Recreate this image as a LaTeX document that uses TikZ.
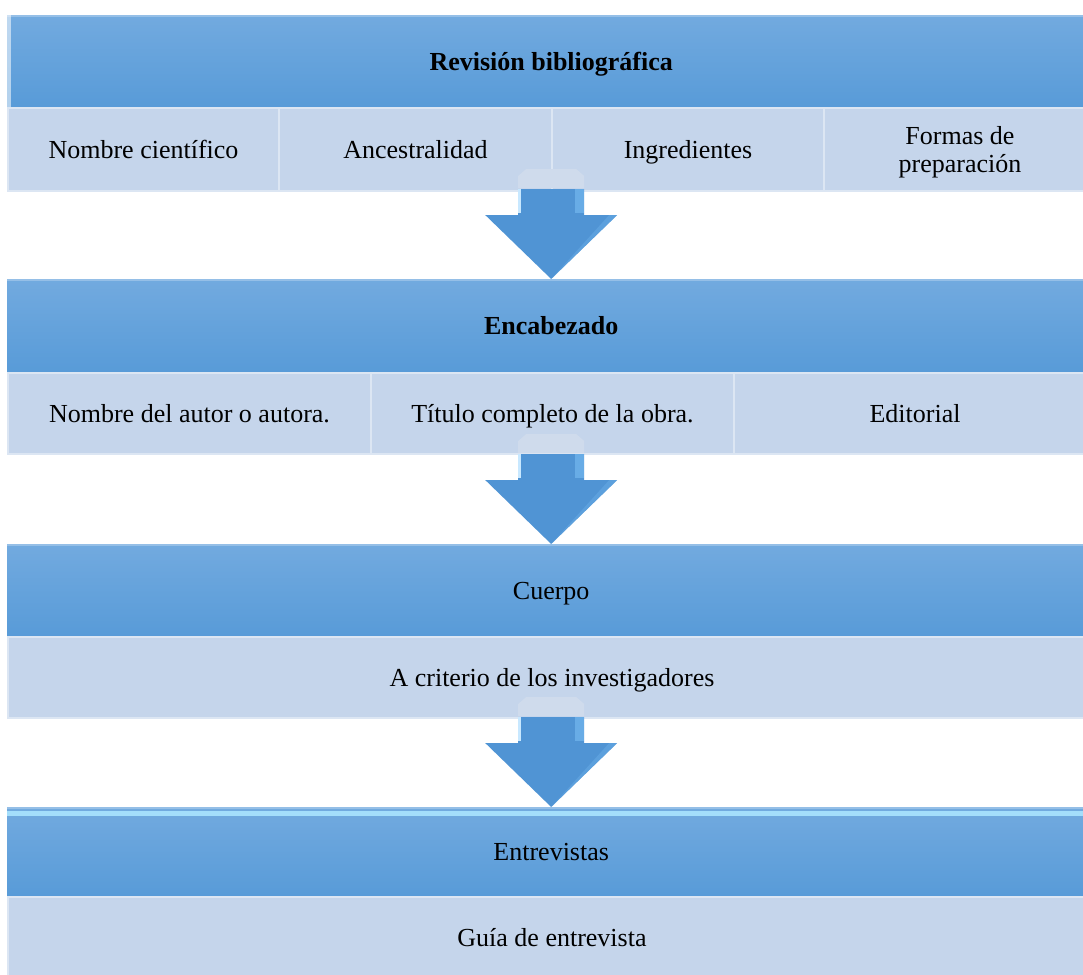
\documentclass[tikz,border=0pt]{standalone}
\usepackage{fontspec}
\setmainfont{Liberation Serif}
\usetikzlibrary{calc}
\definecolor{hdtop}{RGB}{114,170,223}
\definecolor{hdbot}{RGB}{88,155,216}
\definecolor{subc}{RGB}{197,213,235}
\definecolor{subedge}{RGB}{220,230,243}
\definecolor{arrc}{RGB}{80,148,212}
\definecolor{arrlight}{RGB}{200,232,255}
\definecolor{arrside}{RGB}{104,172,230}
\definecolor{ghost}{RGB}{207,219,236}
\definecolor{glow}{RGB}{170,228,255}
\tikzset{
  txt/.style={font=\fontsize{26}{28}\selectfont, text=black, align=center},
  hdr/.style={rectangle, inner sep=0pt, top color=hdtop, bottom color=hdbot, draw=none, anchor=north west, txt, text height=21pt, text depth=3pt},
  subbox/.style={rectangle, inner sep=0pt, fill=subc, draw=subedge, line width=2pt, anchor=north west, txt, text height=21pt, text depth=3pt},
  bigarrow/.style={fill=arrc, draw=none},
}
\begin{document}
\begin{tikzpicture}[x=1pt,y=-1pt]
\useasboundingbox (0,0) rectangle (1083,974);
\clip (0,0) rectangle (1083,974);
\fill[white] (0,0) rectangle (1083,974);

% Block 1
\node[hdr, minimum width=1088pt, minimum height=92pt] (h1) at (7,15) {\textbf{Revisión bibliográfica}};
\node[subbox, minimum width=271pt, minimum height=83pt] (s1a) at (7,107) {Nombre científico};
\node[subbox, minimum width=273pt, minimum height=83pt] (s1b) at (278,107) {Ancestralidad};
\node[subbox, minimum width=272pt, minimum height=83pt] (s1c) at (551,107) {Ingredientes};
\node[subbox, minimum width=272pt, minimum height=83pt, text height=, text depth=] (s1d) at (823,107) {};
\node[txt] (s1dt) at ($(s1d.center)+(0,3)$) {Formas de\\preparación};

% Block 2
\node[hdr, minimum width=1088pt, minimum height=93pt] (h2) at (7,279) {\textbf{Encabezado}};
\node[subbox, minimum width=363pt, minimum height=81pt] (s2a) at (7,372) {Nombre del autor o autora.};
\node[subbox, minimum width=363pt, minimum height=81pt] (s2b) at (370,372) {Título completo de la obra.};
\node[subbox, minimum width=362pt, minimum height=81pt] (s2c) at (733,372) {Editorial};

% Block 3
\node[hdr, minimum width=1088pt, minimum height=92pt] (h3) at (7,544) {Cuerpo};
\node[subbox, minimum width=1088pt, minimum height=81pt] (s3) at (7,636) {A criterio de los investigadores};

% Block 4
\node[hdr, minimum width=1088pt, minimum height=89pt] (h4) at (7,807) {Entrevistas};
\node[subbox, minimum width=1088pt, minimum height=80pt] (s4) at (7,896) {Guía de entrevista};

% header highlights
\fill[white, opacity=0.55] (7,15) rectangle (11,107);
\fill[glow, opacity=0.9] (7,811) rectangle (1083,816);
\foreach \hn in {h1,h2,h3,h4}{
  \fill[white, opacity=0.25] (\hn.north west) rectangle ($(\hn.north east)+(0,2)$);
}

% Arrows: tip at the next header, shaft from the sub box above
\foreach \tipn in {h2,h3,h4}{
  \begin{scope}[shift={(\tipn.north)}]
    \fill[ghost] (-33,-91) -- (-33,-103) -- (-25,-110) -- (25,-110) -- (33,-103) -- (33,-91) -- cycle;
    \fill[bigarrow] (0,0) -- (-66,-64) -- (-33,-64) -- (-33,-90) -- (33,-90) -- (33,-64) -- (66,-64) -- cycle;
    \fill[arrlight] (-33,-90) rectangle (-30,-66);
    \fill[arrside] (24,-90) rectangle (33,-66);
    \fill[arrside, opacity=0.5] (0,0) -- (10,-10) -- (66,-64) -- (58,-64) -- cycle;
  \end{scope}
}
\end{tikzpicture}
\end{document}
